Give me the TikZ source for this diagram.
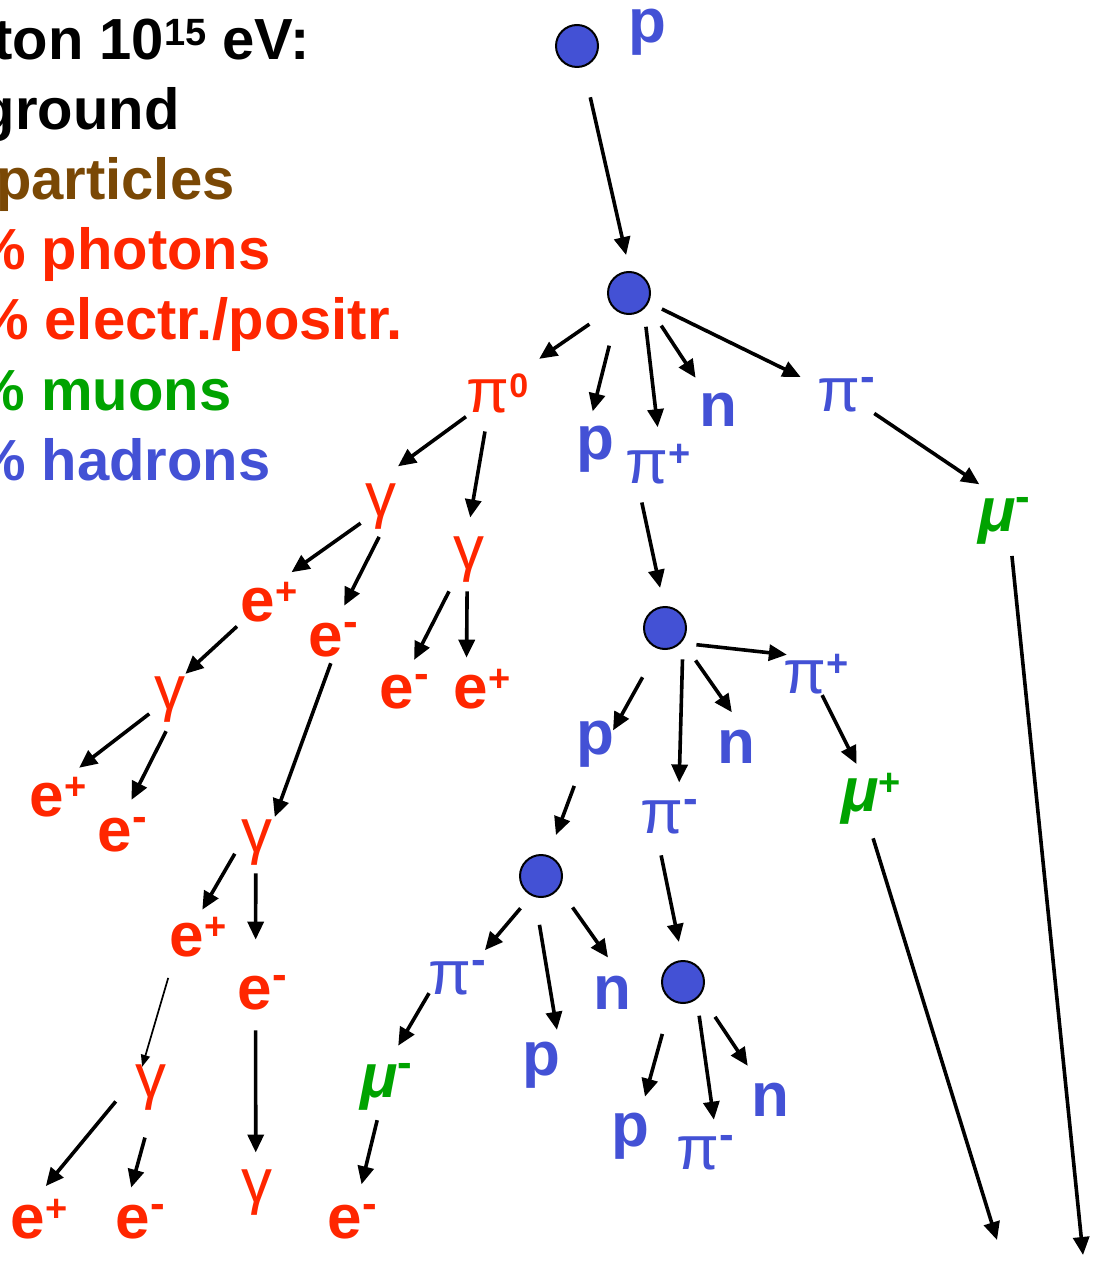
\documentclass[tikz,border=0pt]{standalone}
\usepackage{fontspec}
\setmainfont{Liberation Sans}
\usetikzlibrary{arrows.meta}

\definecolor{hadblue}{RGB}{67,81,213}
\definecolor{emred}{RGB}{255,38,0}
\definecolor{mugreen}{RGB}{0,163,0}
\definecolor{ptbrown}{RGB}{122,72,5}

% charge marks, hung on the right of the particle letter
\newcommand\chp{\rlap{\raisebox{.26em}{\fontsize{19}{19}\selectfont +}}}
\newcommand\chm{\rlap{\raisebox{.32em}{\fontsize{22}{22}\selectfont -}}}
\newcommand\chz{\rlap{\raisebox{.24em}{\fontsize{17}{17}\selectfont 0}}}
\newcommand\gam{{\mdseries γ}}
\newcommand\pii{{\mdseries π}}
\newcommand\muu{{\itshape μ}}

\begin{document}
\begin{tikzpicture}[
  x=0.5pt,
  y=-0.5pt,
  lbl/.style={circle, minimum size=36pt, inner sep=0pt, text height=16pt, text depth=0pt,
    font=\fontsize{31}{31}\selectfont\bfseries},
  hadron/.style={lbl, text=hadblue},
  emp/.style={lbl, text=emred},
  muon/.style={lbl, text=mugreen},
  vtx/.style={circle, draw=black, line width=1pt, fill=hadblue, minimum size=21pt,
    inner sep=0pt, outer sep=10pt},
  legend/.style={inner sep=0pt, anchor=base east, font=\fontsize{29}{29}\selectfont\bfseries},
  arr/.style={-{Triangle[length=9pt,width=8pt]}, line width=1.8pt},
  thinarr/.style={-{Triangle[length=6pt,width=4.5pt]}, line width=0.85pt}
]
\useasboundingbox (0,0) rectangle (1095,1261);
\clip (0,0) rectangle (1095,1261);

% legend, cut at the left edge
\node[legend] (lhead) at (310,60) {ton 10\raisebox{.25em}{\fontsize{19}{19}\selectfont 15} eV:};
\node[legend] (lground) at (180,130) {ground};
\node[legend, text=ptbrown] (lparticles) at (235,200) {particles};
\node[legend, text=emred] (lphotons) at (271,270) {\% photons};
\node[legend, text=emred] (lelectr) at (403,340) {\% electr./positr.};
\node[legend, text=mugreen] (lmuons) at (232,410) {\% muons};
\node[legend, text=hadblue] (lhadrons) at (271,480) {\% hadrons};

% primary and first interaction
\node[hadron] (ptop) at (647,27) {p};
\node[vtx] (v0) at (577,46) {};
\node[vtx] (v1) at (629,293) {};
\node[emp] (pi0) at (488,396) {\pii\chz};
\node[hadron] (p1) at (595,443.5) {p};
\node[hadron] (pip1) at (647,467) {\pii\chp};
\node[hadron] (n1) at (718,410) {n};
\node[hadron] (pim1) at (839,395) {\pii\chm};
\node[muon] (mum1) at (997,515.5) {\muu\chm};
\coordinate (endB) at (1083,1255);

% electromagnetic part
\node[emp] (g1) at (381,500.5) {\gam};
\node[emp] (g2) at (469,553.5) {\gam};
\node[emp] (ep1) at (258,605) {e\chp};
\node[emp] (em1) at (326,640) {e\chm};
\node[emp] (em2) at (397,692) {e\chm};
\node[emp] (ep2) at (471,692) {e\chp};
\node[emp] (g3) at (170,693.5) {\gam};
\node[emp] (ep3) at (47,800) {e\chp};
\node[emp] (em3) at (115,835) {e\chm};
\node[emp] (g4) at (257,836.5) {\gam};
\node[emp] (ep4) at (187,940) {e\chp};
\node[emp] (em4) at (255,993) {e\chm};
\node[emp] (g5) at (151,1081.5) {\gam};
\node[emp] (g6) at (257,1186.5) {\gam};
\node[emp] (ep5) at (28,1222) {e\chp};
\node[emp] (em5) at (133,1222) {e\chm};

% hadronic part
\node[vtx] (v2) at (665,628) {};
\node[hadron] (p2) at (595,738.5) {p};
\node[hadron] (pim2) at (662,817) {\pii\chm};
\node[hadron] (n2) at (736,747) {n};
\node[hadron] (pip2) at (805,677) {\pii\chp};
\node[muon] (mup) at (860,795.5) {\muu\chp};
\coordinate (endA) at (997,1240);
\node[vtx] (v3) at (541,876) {};
\node[hadron] (pim3) at (450,978) {\pii\chm};
\node[hadron] (p3) at (541,1059.5) {p};
\node[hadron] (n3) at (612,993) {n};
\node[muon] (mum2) at (379,1081.5) {\muu\chm};
\node[emp] (em6) at (345,1222) {e\chm};
\node[vtx] (v4) at (683,982) {};
\node[hadron] (p4) at (630,1130.5) {p};
\node[hadron] (pim4) at (698,1153) {\pii\chm};
\node[hadron] (n4) at (770,1100) {n};

\draw[arr, shorten <=6pt, shorten >=-1.5pt] (v0.-75) -- (v1.95);
\draw[arr, shorten <=4.7pt, shorten >=13.4pt] (v1.-141) -- (pi0.37);
\draw[arr, shorten <=7.7pt, shorten >=-2.2pt] (v1.-113) -- (p1.92);
\draw[arr, shorten <=-1.7pt, shorten >=2.6pt] (v1.-65) -- (pip1.72);
\draw[arr, shorten <=2.5pt, shorten >=1.4pt] (v1.-44) -- (n1.125);
\draw[arr, shorten <=-2.2pt, shorten >=3pt] (v1.-26) -- (pim1.155);
\draw[arr, shorten <=1.7pt, shorten >=-0.3pt] (pim1.-27) -- (mum1.120);
\draw[arr, shorten <=3.5pt] (mum1.-67) -- (endB);

\draw[arr, shorten <=-3.1pt, shorten >=1pt] (pi0.-138) -- (g1.65);
\draw[arr, shorten <=-0.4pt, shorten >=-0.2pt] (pi0.-95) -- (g2.88);
\draw[arr, shorten <=-3pt, shorten >=5.3pt] (g1.-134) -- (ep1.47);
\draw[arr, shorten >=1.2pt] (g1.-93) -- (em1.62);
\draw[arr, shorten <=3.2pt] (g2.-118) -- (em2.62);
\draw[arr, shorten <=0.8pt, shorten >=-0.9pt] (g2.-93) -- (ep2.97);
\draw[arr, shorten <=-3.2pt, shorten >=-5.8pt] (ep1.-135) -- (g3.49);
\draw[arr, shorten <=-7pt, shorten >=-5.3pt] (em1.-90) -- (g4.54);
\draw[arr, shorten <=-3.7pt, shorten >=4.6pt] (g3.-137) -- (ep3.47);
\draw[arr, shorten <=0.8pt, shorten >=1.2pt] (g3.-95) -- (em3.65);
\draw[arr, shorten <=-4.4pt, shorten >=-1.2pt] (g4.-137) -- (ep4.63);
\draw[arr, shorten <=0.3pt, shorten >=8.5pt] (g4.-92) -- (em4.89);
\draw[thinarr, shorten <=3pt, shorten >=-11.3pt] (ep4.-118) -- (g5.94);
\draw[arr, shorten <=0.5pt, shorten >=-1.2pt] (em4.-89) -- (g6.92);
\draw[arr, shorten <=2.2pt, shorten >=1.9pt] (g5.-153) -- (ep5.65);
\draw[arr, shorten <=10.2pt, shorten >=-1pt] (g5.-91) -- (em5.92);

\draw[arr, shorten <=-0.3pt, shorten >=-0.3pt] (pip1.-98) -- (v2.97);
\draw[arr, shorten <=6.6pt, shorten >=-9.3pt] (v2.-113) -- (p2.42);
\draw[arr, shorten <=-2.9pt, shorten >=1.2pt] (v2.-65) -- (pim2.62);
\draw[arr, shorten <=1.8pt, shorten >=-0.8pt] (v2.-46) -- (n2.98);
\draw[arr, shorten <=-2.9pt, shorten >=-4.9pt] (v2.-25) -- (pip2.140);
\draw[arr, shorten <=-5.9pt, shorten >=-2.5pt] (pip2.-52) -- (mup.99);
\draw[arr, shorten <=4.2pt] (mup.-73) -- (endA);
\draw[arr, shorten <=7.7pt, shorten >=1.3pt] (p2.-115) -- (v3.70);
\draw[arr, shorten <=-1.4pt, shorten >=4.2pt] (v3.-123) -- (pim3.36);
\draw[arr, shorten <=4pt, shorten >=-1.7pt] (v3.-94) -- (p3.65);
\draw[arr, shorten <=1.8pt, shorten >=-0.4pt] (v3.-44) -- (n3.97);
\draw[arr, shorten <=1pt, shorten >=-0.4pt] (pim2.-92) -- (v4.96);
\draw[arr, shorten <=-5.6pt, shorten >=2.1pt] (pim3.-137) -- (mum2.62);
\draw[arr, shorten <=1.2pt, shorten >=2.4pt] (mum2.-92) -- (em6.65);
\draw[arr, shorten <=7.5pt, shorten >=0.3pt] (v4.-114) -- (p4.66);
\draw[arr, shorten <=-1.9pt, shorten >=0.3pt] (v4.-66) -- (pim4.64);
\draw[arr, shorten <=3.2pt, shorten >=2.2pt] (v4.-46) -- (n4.123);
\end{tikzpicture}
\end{document}
